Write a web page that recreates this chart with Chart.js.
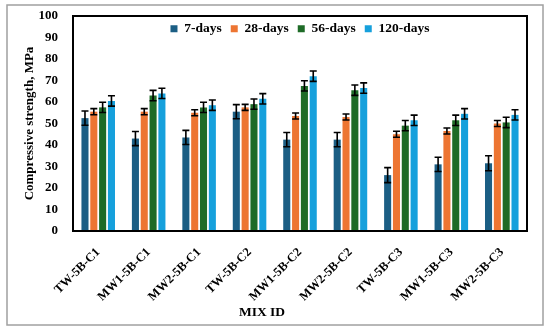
<!DOCTYPE html>
<html>
<head>
<meta charset="utf-8">
<script src="https://cdn.jsdelivr.net/npm/chart.js@4/dist/chart.umd.min.js"></script>
<style>
  html, body { margin: 0; padding: 0; background: #fff; }
  #wrap { width: 550px; height: 334px; position: relative; }
</style>
</head>
<body>
<div id="wrap"><canvas id="strength-chart" width="550" height="334"></canvas></div>
<script>
const mixIds = ['TW-5B-C1', 'MW1-5B-C1', 'MW2-5B-C1', 'TW-5B-C2', 'MW1-5B-C2', 'MW2-5B-C2', 'TW-5B-C3', 'MW1-5B-C3', 'MW2-5B-C3'];
const ages = ['7-days', '28-days', '56-days', '120-days'];
const days7 = [52.5, 43, 43.5, 55.5, 42.5, 42.5, 26, 31, 31.5];
const days28 = [55.5, 55.5, 55, 57.5, 53.5, 53, 45, 46.5, 50];
const days56 = [57.5, 63, 57.5, 59, 67.5, 65.5, 49, 51.5, 50.5];
const days120 = [60.5, 64, 58.5, 61.5, 72, 66.5, 51.5, 54.5, 54];
const err7 = [3.3, 3.3, 3.3, 3.3, 3.3, 3.3, 3.5, 3.3, 3.5];
const err28 = [1.4, 1.4, 1.4, 1.4, 1.4, 1.4, 1.4, 1.4, 1.4];
const err56 = [2.4, 2.4, 2.4, 2.4, 2.4, 2.4, 2.4, 2.4, 2.4];
const err120 = [2.4, 2.4, 2.4, 2.4, 2.4, 2.4, 2.4, 2.4, 2.4];
const yTicks = [0, 10, 20, 30, 40, 50, 60, 70, 80, 90, 100];
const xTitle = 'MIX ID';

const colors = ['#1b5e84', '#ed7532', '#1e6b27', '#16a0dc'];
const serif = '"Liberation Serif", "DejaVu Serif", serif';

// error bars drawn through the y scale
const errorBars = {
    id: 'errorBars',
    afterDatasetsDraw(chart) {
        const ctx = chart.ctx;
        const y = chart.scales.y;
        ctx.save();
        ctx.strokeStyle = '#000';
        ctx.lineWidth = 1.6;
        chart.data.datasets.forEach((ds, i) => {
            const meta = chart.getDatasetMeta(i);
            meta.data.forEach((bar, j) => {
                const v = ds.data[j], e = ds.errors[j];
                const top = y.getPixelForValue(v + e);
                const bot = y.getPixelForValue(v - e);
                ctx.beginPath();
                ctx.moveTo(bar.x, top); ctx.lineTo(bar.x, bot);
                ctx.moveTo(bar.x - 3.5, top); ctx.lineTo(bar.x + 3.5, top);
                ctx.moveTo(bar.x - 3.5, bot); ctx.lineTo(bar.x + 3.5, bot);
                ctx.stroke();
            });
        });
        ctx.restore();
    }
};

// legend sits inside the plot: it takes no height in the layout,
// then gets its real box back so its clip area is not empty
const legendInside = {
    id: 'legendInside',
    beforeLayout(chart) {
        const lg = chart.legend;
        if (lg && !lg._patched) {
            const fit = lg.fit;
            lg.fit = function() {
                fit.call(this);
                this._realHeight = this.height;
                this.height = 0;
            };
            lg._patched = true;
        }
    },
    afterLayout(chart) {
        const lg = chart.legend;
        if (lg) {
            lg.top -= 3;
            lg.height = lg._realHeight;
            lg.bottom = lg.top + lg._realHeight;
        }
    }
};

// frame around the plot, outer figure border and the x title
const frames = {
    id: 'frames',
    beforeDraw(chart) {
        const ctx = chart.ctx;
        ctx.save();
        ctx.fillStyle = '#fff';
        ctx.fillRect(0, 0, chart.width, chart.height);
        ctx.strokeStyle = '#a0a0a0';
        ctx.lineWidth = 1.5;
        ctx.strokeRect(7, 5, 536, 320);
        ctx.restore();
    },
    afterDraw(chart) {
        const a = chart.chartArea;
        const ctx = chart.ctx;
        ctx.save();
        ctx.strokeStyle = '#000';
        ctx.lineWidth = 2;
        ctx.strokeRect(a.left, a.top, a.right - a.left, a.bottom - a.top);
        ctx.fillStyle = '#000';
        ctx.font = 'bold 13.5px ' + serif;
        ctx.textAlign = 'center';
        ctx.textBaseline = 'middle';
        ctx.fillText(xTitle, 262, 313);
        ctx.restore();
    }
};

const series = [days7, days28, days56, days120];
const errs = [err7, err28, err56, err120];

new Chart(document.getElementById('strength-chart').getContext('2d'), {
    type: 'bar',
    data: {
        labels: mixIds,
        datasets: ages.map((a, i) => ({
            label: a,
            data: series[i],
            errors: errs[i],
            backgroundColor: colors[i],
            categoryPercentage: 0.7,
            barPercentage: 0.8
        }))
    },
    options: {
        responsive: false,
        animation: false,
        layout: { padding: { top: 16, right: 23, bottom: 12, left: 18 } },
        plugins: {
            legend: {
                position: 'top',
                align: 'center',
                fullSize: false,
                labels: {
                    boxWidth: 7,
                    boxHeight: 7,
                    padding: 9,
                    color: '#000',
                    font: { family: serif, size: 13.5, weight: 'bold' }
                }
            },
            tooltip: { enabled: false }
        },
        scales: {
            x: {
                grid: { display: false },
                border: { display: false },
                ticks: {
                    color: '#000',
                    minRotation: 45,
                    maxRotation: 45,
                    padding: 6,
                    font: { family: serif, size: 12.5, weight: 'bold' }
                },
                afterFit(s) { s.height = 91; }
            },
            y: {
                min: 0,
                max: 100,
                afterBuildTicks(s) { s.ticks = yTicks.map(v => ({ value: v })); },
                grid: { display: false },
                border: { display: false },
                ticks: {
                    color: '#000',
                    padding: 7,
                    font: { family: serif, size: 13, weight: 'bold' }
                },
                title: {
                    display: true,
                    text: 'Compressive strength, MPa',
                    color: '#000',
                    font: { family: serif, size: 13, weight: 'bold' }
                },
                afterFit(s) { s.width = 55; }
            }
        }
    },
    plugins: [legendInside, frames, errorBars]
});
</script>
</body>
</html>
